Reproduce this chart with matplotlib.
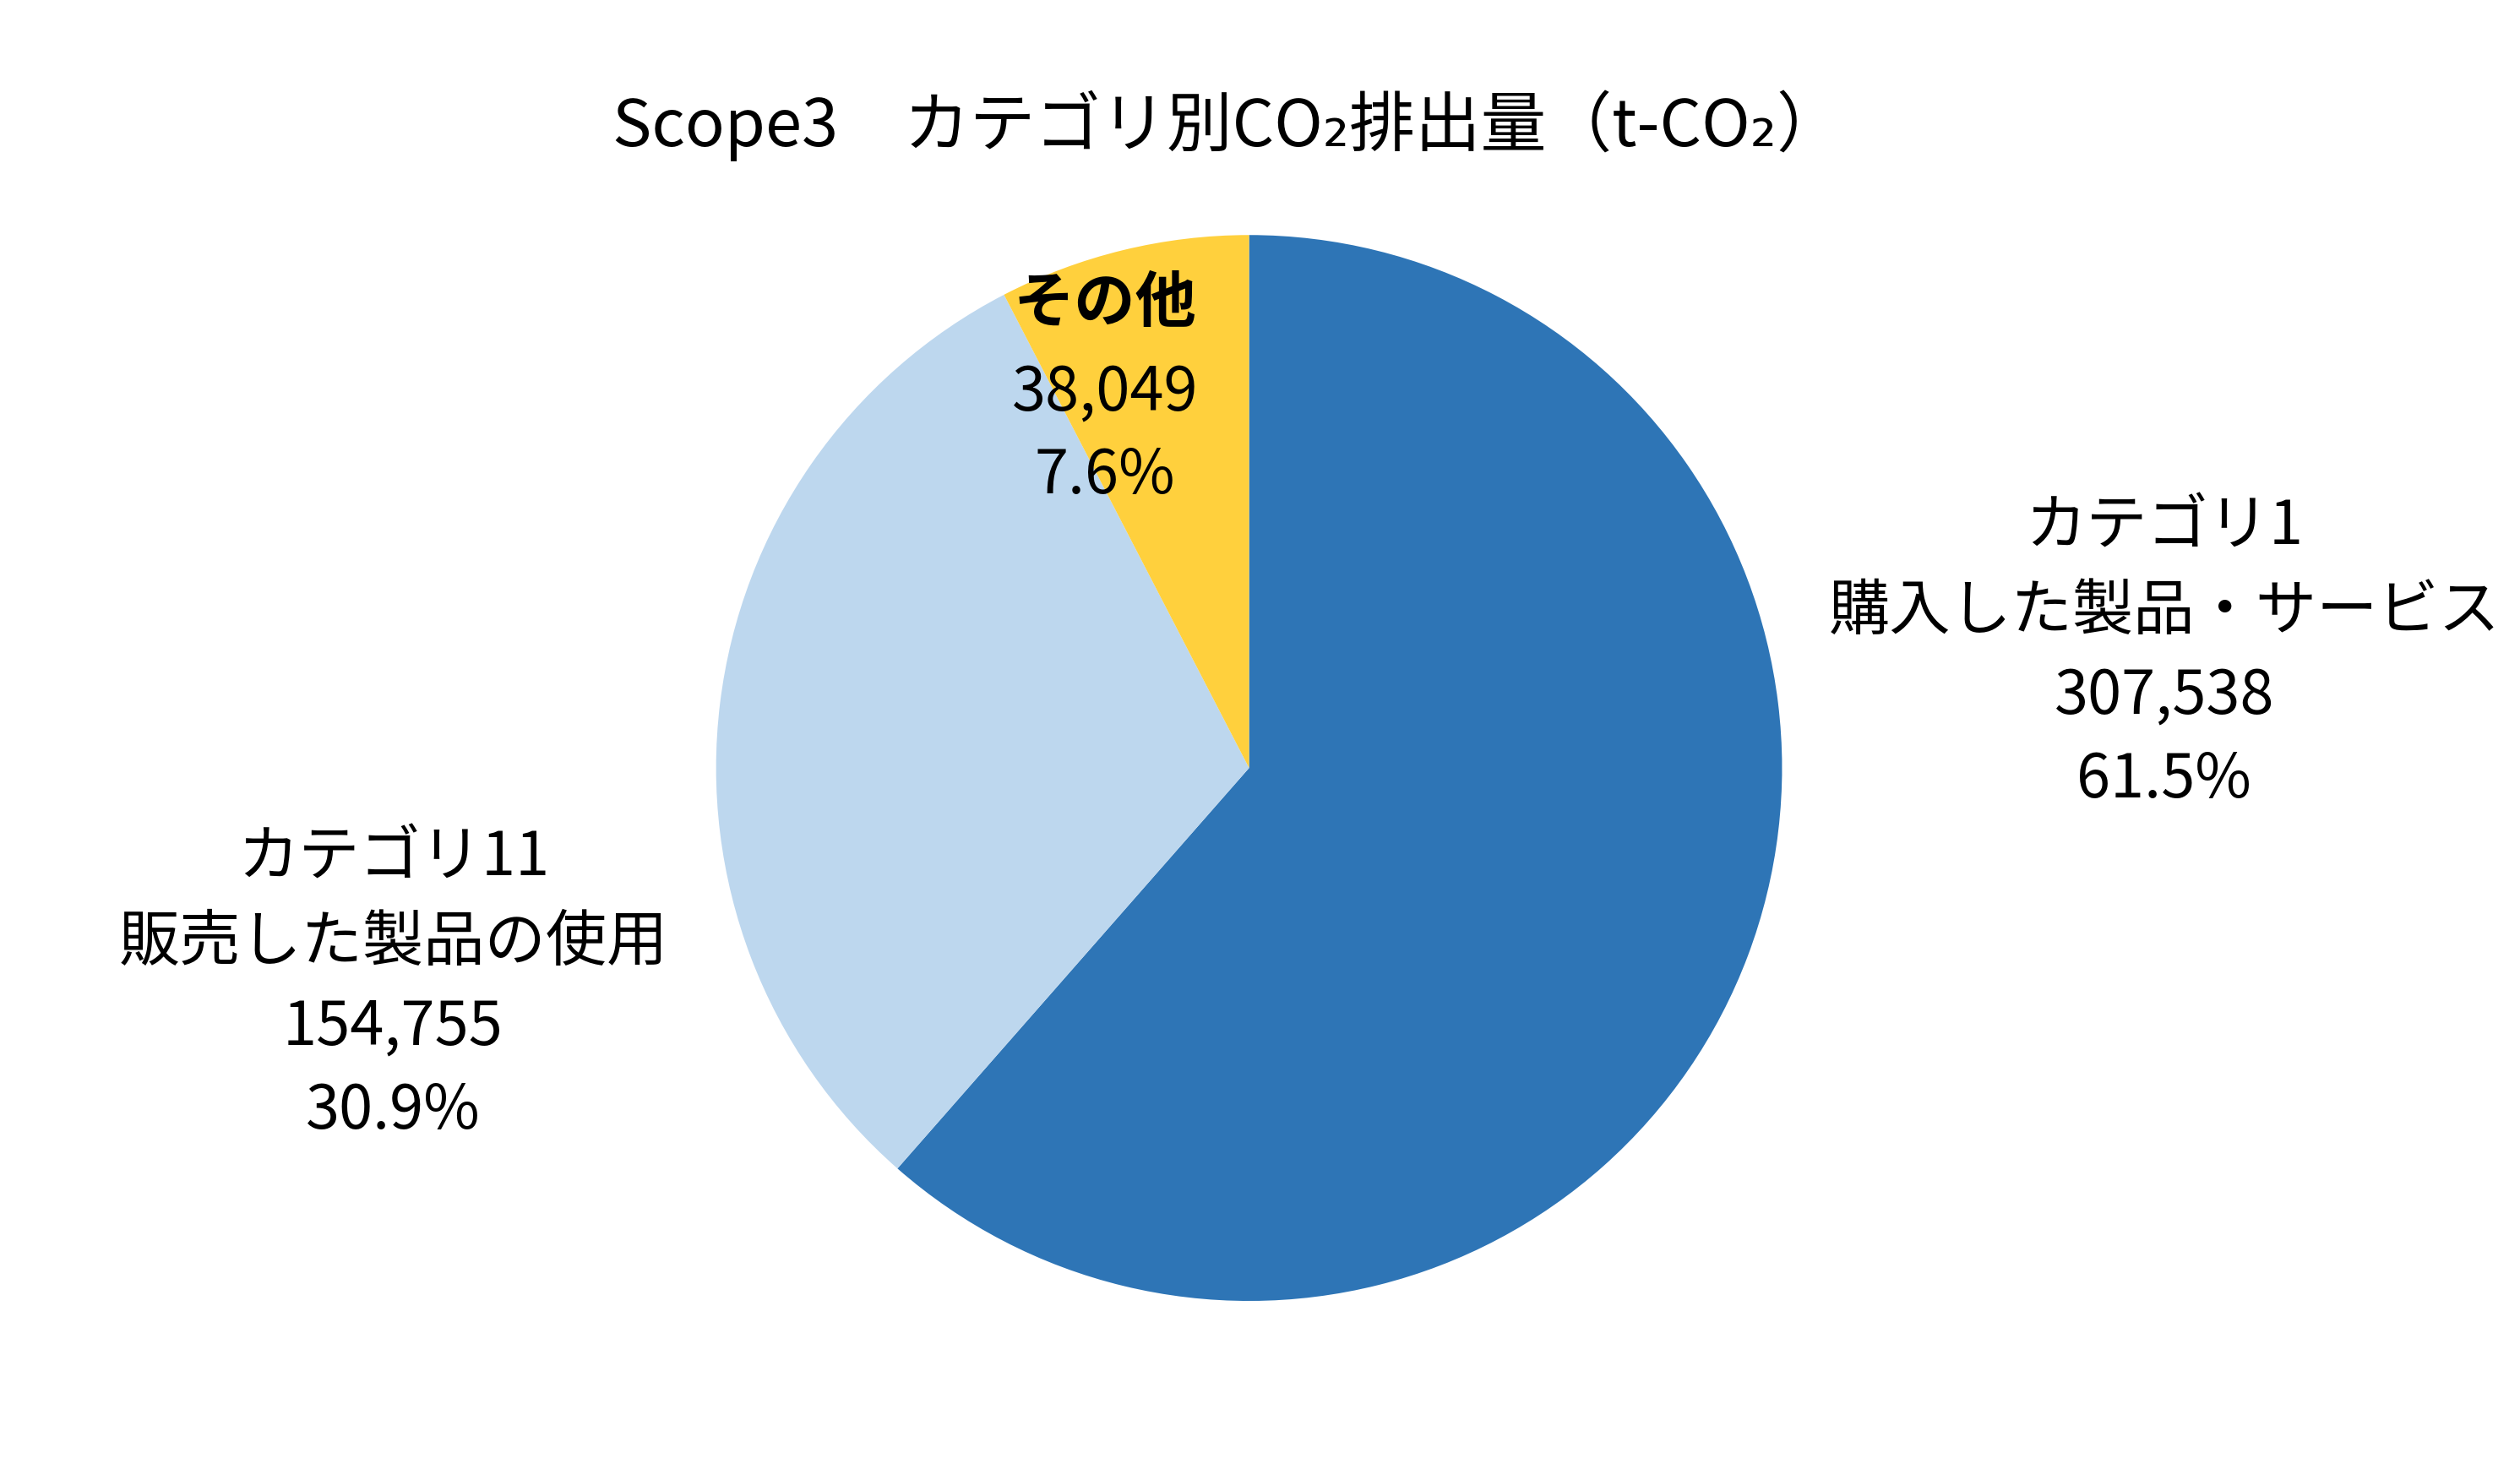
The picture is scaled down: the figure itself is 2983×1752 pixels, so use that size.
import matplotlib.pyplot as plt

plt.rcParams['font.family'] = ['Noto Sans CJK JP', 'DejaVu Sans']

# データ
categories = ['カテゴリ1\n購入した製品・サービス', 'カテゴリ11\n販売した製品の使用', 'その他']
values = [307538, 154755, 38049]
colors = ['#2E75B6', '#BDD7EE', '#FFD03D']
title = 'Scope3\u3000カテゴリ別CO\u2082排出量（t-CO\u2082）'

total = sum(values)

fig = plt.figure(figsize=(14.915, 8.76), dpi=200)
ax = fig.add_axes([0, 0, 1, 1])

wedges, _ = ax.pie(values, colors=colors, startangle=90, counterclock=False,
                   radius=1, wedgeprops=dict(linewidth=0))

# ラベル位置（円の半径を1とした座標）
label_pos = [(1.717, 0.214), (-1.606, -0.407), (-0.27, 0.708)]
for i, (name, v) in enumerate(zip(categories, values)):
    x, y = label_pos[i]
    pct = v / total * 100
    if name == 'その他':
        ax.text(x, y + 0.163, name, ha='center', va='center', fontsize=26,
                fontweight='bold')
        ax.text(x, y - 0.082, f'{v:,}\n{pct:.1f}%', ha='center', va='center',
                fontsize=26, linespacing=1.45)
    else:
        ax.text(x, y, f'{name}\n{v:,}\n{pct:.1f}%', ha='center', va='center',
                fontsize=26, linespacing=1.47)

ax.set_xlim(-2.343, 2.384)
ax.set_ylim(-1.336, 1.441)
ax.axis('off')

fig.text(0.487, 0.915, title, ha='center', va='center', fontsize=28)

fig.savefig('out.png', dpi=200)
